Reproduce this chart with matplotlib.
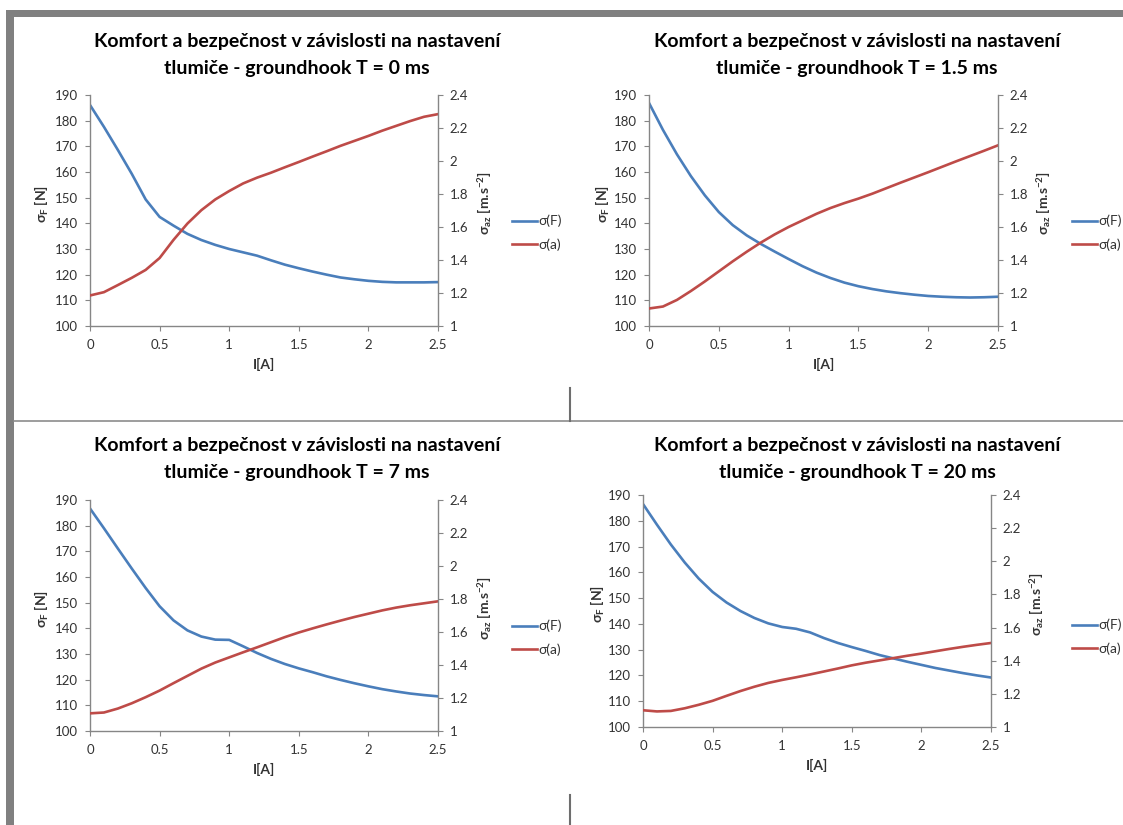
import numpy as np
import matplotlib
matplotlib.use("Agg")
import matplotlib.pyplot as plt
from matplotlib.patches import Rectangle
from matplotlib.lines import Line2D
from matplotlib.ticker import FormatStrFormatter

plt.rcParams['font.family'] = ['Lato', 'DejaVu Sans']
plt.rcParams['mathtext.fontset'] = 'custom'
plt.rcParams['mathtext.rm'] = 'Lato:bold'
plt.rcParams['mathtext.bf'] = 'Lato:bold'
plt.rcParams['mathtext.it'] = 'Lato:bold'

# current I[A], same grid for every chart
current = [0.0, 0.1, 0.2, 0.3, 0.4, 0.5, 0.6, 0.7, 0.8, 0.9, 1.0, 1.1, 1.2,
           1.3, 1.4, 1.5, 1.6, 1.7, 1.8, 1.9, 2.0, 2.1, 2.2, 2.3, 2.4, 2.5]

titles = ["T = 0 ms", "T = 1.5 ms", "T = 7 ms", "T = 20 ms"]

# sigma(F) [N], left axis
sigF_0 = [186.1, 177.6, 168.6, 159.3, 149.3, 142.5, 139.1, 135.9, 133.5, 131.6, 130.0, 128.7, 127.4,
          125.6, 123.9, 122.5, 121.2, 120.0, 118.9, 118.2, 117.6, 117.2, 117.0, 117.0, 117.0, 117.1]
sigF_15 = [186.9, 176.4, 166.9, 158.4, 150.9, 144.4, 139.3, 135.3, 132.0, 129.0, 126.1, 123.3, 120.8,
           118.7, 116.9, 115.5, 114.4, 113.5, 112.8, 112.2, 111.7, 111.4, 111.2, 111.1, 111.2, 111.4]
sigF_7 = [186.7, 179.0, 171.1, 163.3, 155.7, 148.6, 143.1, 139.2, 136.8, 135.6, 135.5, 133.0, 130.4,
          128.1, 126.1, 124.4, 122.9, 121.3, 119.9, 118.6, 117.4, 116.3, 115.4, 114.6, 114.0, 113.5]
sigF_20 = [186.5, 178.5, 170.8, 163.8, 157.6, 152.4, 148.3, 145.0, 142.3, 140.2, 138.8, 138.1, 136.7,
           134.5, 132.6, 131.0, 129.5, 127.9, 126.6, 125.3, 124.1, 122.9, 121.9, 120.9, 120.0, 119.2]

# sigma(a) [m.s-2], right axis
siga_0 = [1.185, 1.205, 1.248, 1.292, 1.340, 1.412, 1.522, 1.621, 1.702, 1.767, 1.818, 1.864, 1.899,
          1.929, 1.962, 1.994, 2.027, 2.059, 2.092, 2.122, 2.152, 2.184, 2.213, 2.242, 2.268, 2.284]
siga_15 = [1.106, 1.118, 1.158, 1.212, 1.270, 1.331, 1.392, 1.450, 1.505, 1.555, 1.600, 1.640, 1.680,
           1.715, 1.745, 1.772, 1.802, 1.835, 1.868, 1.900, 1.932, 1.965, 1.998, 2.030, 2.062, 2.095]
siga_7 = [1.107, 1.112, 1.136, 1.168, 1.205, 1.245, 1.290, 1.334, 1.378, 1.415, 1.446, 1.477, 1.507,
          1.538, 1.569, 1.597, 1.622, 1.646, 1.669, 1.691, 1.711, 1.731, 1.748, 1.762, 1.774, 1.786]
siga_20 = [1.101, 1.094, 1.097, 1.113, 1.134, 1.158, 1.188, 1.217, 1.243, 1.266, 1.284, 1.300, 1.317,
           1.335, 1.353, 1.372, 1.388, 1.402, 1.416, 1.430, 1.443, 1.457, 1.471, 1.484, 1.496, 1.507]

sigF_all = [sigF_0, sigF_15, sigF_7, sigF_20]
siga_all = [siga_0, siga_15, siga_7, siga_20]

W, H = 1123, 825
BLUE = '#4A7EBB'
RED = '#BE4B48'
AXC = '#868686'
TXT = '#333333'

fig = plt.figure(figsize=(W / 100, H / 100), dpi=100)


def fx(x):
    return x / W


def fy(y):
    return 1 - y / H


def rect(x0, y0, x1, y1, color):
    fig.add_artist(Rectangle((fx(x0), fy(y1)), fx(x1 - x0), (y1 - y0) / H,
                             transform=fig.transFigure, color=color, lw=0))


# screenshot frame bits
rect(6, 10, W, 17, '#808080')
rect(6, 10, 14, H, '#808080')
fig.add_artist(Line2D([fx(14), 1], [fy(421.5), fy(421.5)], transform=fig.transFigure,
                      color='#8c8c8c', lw=1.2))
for y0, y1 in [(388, 421), (795, 825)]:
    fig.add_artist(Line2D([fx(570), fx(570)], [fy(y0), fy(y1)], transform=fig.transFigure,
                          color='#6e6e6e', lw=1.5))

# layout of the four charts (pixel boxes of plot areas etc.)
boxes = [(90, 95, 438, 326), (649, 95, 998, 326), (90, 500, 438, 731), (643, 495, 991, 727)]
title_x = [297, 857, 297, 857]
title_y = [55, 55, 459, 459]
legend_x = [510, 1070, 510, 1070]
legend_y = [233, 233, 638, 637]
ylab_left_x = [45, 606, 45, 601]
ylab_right_x = [482, 1041, 482, 1034]

for i in range(4):
    x0, y0, x1, y1 = boxes[i]
    ax = fig.add_axes([fx(x0), fy(y1), fx(x1 - x0), (y1 - y0) / H])
    ax2 = ax.twinx()

    l1, = ax.plot(current, sigF_all[i], color=BLUE, lw=1.9, label='σ(F)')
    l2, = ax2.plot(current, siga_all[i], color=RED, lw=1.9, label='σ(a)')

    ax.set_xlim(0, 2.5)
    ax.set_ylim(100, 190)
    ax2.set_ylim(1, 2.4)
    ax.set_xticks(np.arange(0, 2.51, 0.5))
    ax.set_yticks(np.arange(100, 191, 10))
    ax2.set_yticks(np.arange(1, 2.41, 0.2))
    ax.xaxis.set_major_formatter(FormatStrFormatter('%g'))
    ax2.yaxis.set_major_formatter(FormatStrFormatter('%g'))

    for a in (ax, ax2):
        a.spines['top'].set_visible(False)
        for s in a.spines.values():
            s.set_color(AXC)
            s.set_linewidth(1.0)
        a.tick_params(colors=AXC, labelcolor=TXT, labelsize=9.5, length=3.5, width=0.8, pad=5)
    ax.spines['right'].set_visible(False)
    ax2.spines['left'].set_visible(False)
    ax2.spines['bottom'].set_visible(False)
    ax.tick_params(axis='x', pad=6)

    ax.set_xlabel('I[A]', fontsize=10, fontweight='bold', color=TXT, labelpad=5)
    ax.set_ylabel('σ$_\\mathrm{F}$ [N]', fontsize=10, fontweight='bold', color=TXT)
    ax2.set_ylabel('σ$_\\mathrm{az}$ [m.s$^\\mathrm{-2}$]', fontsize=10, fontweight='bold',
                   color=TXT, rotation=90)
    ymid = (y0 + y1) / 2 - 7
    ax.yaxis.set_label_coords((ylab_left_x[i] + 6 - x0) / (x1 - x0), (y1 - ymid) / (y1 - y0))
    ax2.yaxis.set_label_coords((ylab_right_x[i] - 6 - x0) / (x1 - x0), (y1 - ymid) / (y1 - y0))

    fig.text(fx(title_x[i]), fy(title_y[i]),
             'Komfort a bezpečnost v závislosti na nastavení\ntlumiče - groundhook ' + titles[i],
             ha='center', va='center', fontsize=14, fontweight='bold', color='black',
             linespacing=1.65)

    fig.legend(handles=[l1, l2], loc='center left',
               bbox_to_anchor=(fx(legend_x[i]) - 0.004, fy(legend_y[i])),
               bbox_transform=fig.transFigure, frameon=False, fontsize=10,
               handlelength=1.8, handletextpad=0.1, labelspacing=0.8,
               labelcolor=TXT, borderpad=0)

fig.savefig('out.png', dpi=100, facecolor='white')
